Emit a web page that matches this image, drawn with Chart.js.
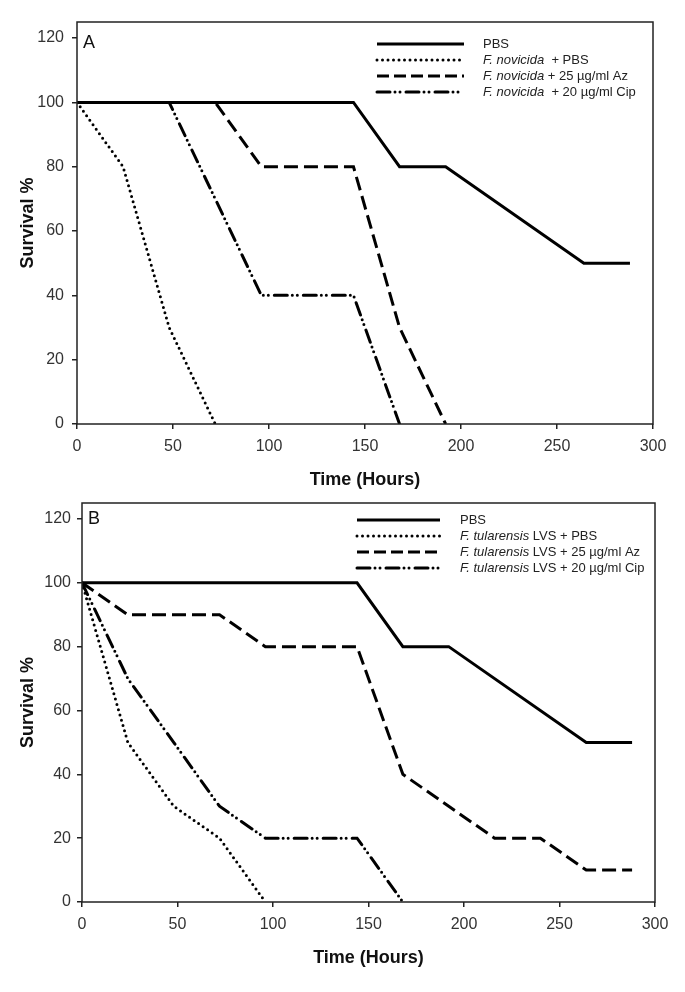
<!DOCTYPE html>
<html>
<head>
<meta charset="utf-8">
<script src="https://cdn.jsdelivr.net/npm/chart.js@4/dist/chart.umd.min.js"></script>
<style>
  html, body { margin: 0; padding: 0; background: #fff; }
  .panel { position: absolute; left: 0; width: 685px; }
  #panelA { top: 0; height: 496px; }
  #panelB { top: 480px; height: 512px; }
</style>
</head>
<body>
<div class="panel" id="panelA"><canvas id="chartA" width="685" height="496"></canvas></div>
<div class="panel" id="panelB"><canvas id="chartB" width="685" height="512"></canvas></div>
<script>
// Panel A - F. novicida
const hoursA_pbs = [0, 144, 168, 192, 264, 288];
const survA_pbs  = [100, 100, 80, 80, 50, 50];
const hoursA_inf = [0, 24, 48, 72];
const survA_inf  = [100, 80, 30, 0];
const hoursA_az  = [0, 72, 96, 144, 168, 192];
const survA_az   = [100, 100, 80, 80, 30, 0];
const hoursA_cip = [0, 48, 96, 144, 168];
const survA_cip  = [100, 100, 40, 40, 0];

// Panel B - F. tularensis LVS
const hoursB_pbs = [0, 144, 168, 192, 264, 288];
const survB_pbs  = [100, 100, 80, 80, 50, 50];
const hoursB_inf = [0, 24, 48, 72, 96];
const survB_inf  = [100, 50, 30, 20, 0];
const hoursB_az  = [0, 24, 72, 96, 144, 168, 192, 216, 240, 264, 288];
const survB_az   = [100, 90, 90, 80, 80, 40, 30, 20, 20, 10, 10];
const hoursB_cip = [0, 24, 48, 72, 96, 144, 168];
const survB_cip  = [100, 70, 50, 30, 20, 20, 0];

const xTicks = [0, 50, 100, 150, 200, 250, 300];
const yTicks = [0, 20, 40, 60, 80, 100, 120];

// legend rows: [italic part, plain part]
const legendA = [['', 'PBS'], ['F. novicida', '  + PBS'], ['F. novicida', ' + 25 µg/ml Az'], ['F. novicida', '  + 20 µg/ml Cip']];
const legendB = [['', 'PBS'], ['F. tularensis', ' LVS + PBS'], ['F. tularensis', ' LVS + 25 µg/ml Az'], ['F. tularensis', ' LVS + 20 µg/ml Cip']];

const FONT = '"Liberation Sans", Arial, sans-serif';

// line styles: solid, dotted, dashed, dash-dot-dot
const styles = [
  { borderWidth: 3, borderDash: [], borderCapStyle: 'butt' },
  { borderWidth: 3, borderDash: [0, 5.5], borderCapStyle: 'round' },
  { borderWidth: 3, borderDash: [14, 6], borderCapStyle: 'butt' },
  { borderWidth: 3, borderDash: [13, 5, 0, 5, 0, 6], borderCapStyle: 'round' }
];

function pts(xs, ys) {
  return xs.map((x, i) => ({ x: x, y: ys[i] }));
}

function makeDatasets(series) {
  return series.map((s, i) => Object.assign({
    data: pts(s[0], s[1]),
    borderColor: '#000',
    pointRadius: 0,
    tension: 0,
    fill: false
  }, styles[i]));
}

// frame box, panel letter and the inset legend
const framePlugin = {
  id: 'frameLegend',
  afterDraw(chart) {
    const o = chart.options.plugins.frameLegend;
    const ctx = chart.ctx;
    const a = chart.chartArea;
    ctx.save();
    ctx.strokeStyle = '#222';
    ctx.lineWidth = 1.5;
    ctx.strokeRect(a.left, a.top, a.right - a.left, a.bottom - a.top);

    ctx.fillStyle = '#111';
    ctx.font = '18px ' + FONT;
    ctx.textBaseline = 'middle';
    ctx.textAlign = 'left';
    ctx.fillText(o.letter, a.left + 6, a.top + o.letterDy);

    o.rows.forEach((row, i) => {
      const y = a.top + o.y0 + i * o.dy;
      const st = styles[i];
      ctx.beginPath();
      ctx.strokeStyle = '#000';
      ctx.lineWidth = st.borderWidth;
      ctx.lineCap = st.borderCapStyle;
      ctx.setLineDash(i === 2 ? [12, 5] : st.borderDash);
      ctx.moveTo(o.x0, y);
      ctx.lineTo(o.x1, y);
      ctx.stroke();
      ctx.setLineDash([]);

      let x = o.tx;
      ctx.fillStyle = '#222';
      if (row[0]) {
        ctx.font = 'italic 13px ' + FONT;
        ctx.fillText(row[0], x, y);
        x += ctx.measureText(row[0]).width;
      }
      ctx.font = '13px ' + FONT;
      ctx.fillText(row[1], x, y);
    });
    ctx.restore();
  }
};

function makeChart(id, series, cfg) {
  return new Chart(document.getElementById(id), {
    type: 'line',
    data: { datasets: makeDatasets(series) },
    options: {
      responsive: false,
      animation: false,
      devicePixelRatio: 1,
      layout: { padding: { left: 0, right: cfg.padRight, top: cfg.padTop, bottom: 0 } },
      plugins: {
        legend: { display: false },
        tooltip: { enabled: false },
        frameLegend: cfg.legend
      },
      scales: {
        x: {
          type: 'linear',
          min: 0, max: 300,
          afterBuildTicks: (s) => { s.ticks = xTicks.map(v => ({ value: v })); },
          afterFit: (s) => { s.height = cfg.xHeight; },
          ticks: { color: '#333', font: { family: FONT, size: 16 }, padding: 8 },
          grid: { drawOnChartArea: false, drawTicks: true, tickLength: 5, color: '#222', lineWidth: 1.5 },
          border: { display: false },
          title: { display: true, text: 'Time (Hours)', color: '#111',
                   font: { family: FONT, size: 18, weight: 'bold' }, padding: { bottom: cfg.xTitlePad } }
        },
        y: {
          min: 0, max: 125,
          afterBuildTicks: (s) => { s.ticks = yTicks.map(v => ({ value: v })); },
          afterFit: (s) => { s.width = cfg.yWidth; },
          ticks: { color: '#333', font: { family: FONT, size: 16 }, padding: cfg.yTickPad },
          grid: { drawOnChartArea: false, drawTicks: true, tickLength: 5, color: '#222', lineWidth: 1.5 },
          border: { display: false },
          title: { display: true, text: 'Survival %', color: '#111',
                   font: { family: FONT, size: 18, weight: 'bold' }, padding: { top: 17 } }
        }
      }
    },
    plugins: [framePlugin]
  });
}

makeChart('chartA', [
  [hoursA_pbs, survA_pbs], [hoursA_inf, survA_inf], [hoursA_az, survA_az], [hoursA_cip, survA_cip]
], {
  padTop: 22, padRight: 32, yWidth: 77, xHeight: 72, xTitlePad: 5, yTickPad: 8,
  legend: { letter: 'A', letterDy: 21, rows: legendA, x0: 377, x1: 464, tx: 483, y0: 22, dy: 16 }
});

makeChart('chartB', [
  [hoursB_pbs, survB_pbs], [hoursB_inf, survB_inf], [hoursB_az, survB_az], [hoursB_cip, survB_cip]
], {
  padTop: 23, padRight: 30, yWidth: 82, xHeight: 90, xTitlePad: 23, yTickPad: 6,
  legend: { letter: 'B', letterDy: 16, rows: legendB, x0: 357, x1: 440, tx: 460, y0: 17, dy: 16 }
});
</script>
</body>
</html>
